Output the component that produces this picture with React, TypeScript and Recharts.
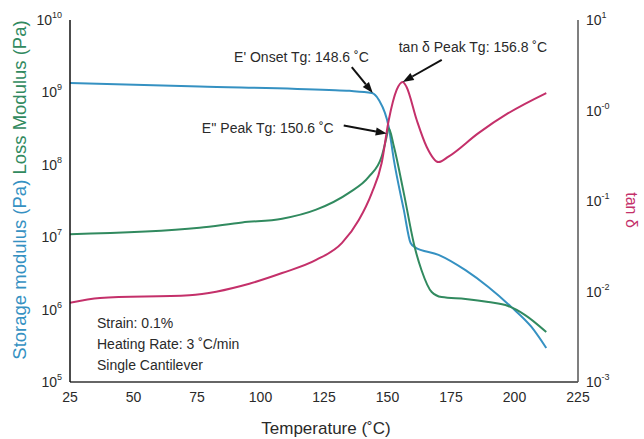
import React from "react";
import { LineChart, Line, XAxis, YAxis, ReferenceDot, Customized } from "recharts";

// Temperature (°C) and values
const storageTemp = [25, 76, 127, 135, 143.8, 146.6, 150.5, 152.5, 156.4, 159.1, 160.7, 170.1, 180.7, 189.7, 198.7, 206.6, 212.5];
const storageVal = [1.35e9, 1.21e9, 1.08e9, 1.05e9, 9.8e8, 7.85e8, 3.3e8, 1.17e8, 2.4e7, 8.3e6, 7.3e6, 5.7e6, 3.5e6, 2.05e6, 1.09e6, 5.8e5, 2.95e5];

const lossTemp = [25, 76, 92.8, 108.5, 121.9, 134.8, 142.6, 147.7, 149.5, 150.5, 152.5, 156.4, 160.7, 163.4, 167.4, 171.3, 180.7, 189.7, 197.5, 204.2, 212.5];
const lossVal = [1.1e7, 1.35e7, 1.6e7, 1.8e7, 2.4e7, 4.1e7, 6.8e7, 1.3e8, 2.3e8, 3.2e8, 1.8e8, 4.1e7, 7.3e6, 3.5e6, 1.75e6, 1.49e6, 1.4e6, 1.27e6, 1.12e6, 8.4e5, 4.9e5];

const tanTemp = [25, 36.8, 72, 95.6, 108.5, 121.9, 132.1, 138.7, 143.8, 147.7, 150.5, 153.6, 156, 157.5, 161.5, 165.4, 170.1, 174, 185.8, 197.5, 212.5];
const tanVal = [0.0075, 0.0085, 0.0091, 0.0122, 0.016, 0.0223, 0.0344, 0.0617, 0.1225, 0.263, 0.785, 1.69, 2.07, 1.82, 0.785, 0.398, 0.269, 0.309, 0.562, 0.933, 1.56];

const xTicks = [25, 50, 75, 100, 125, 150, 175, 200, 225];
const leftTicks = [1e5, 1e6, 1e7, 1e8, 1e9, 1e10];
const leftTickExp = ["5", "6", "7", "8", "9", "10"];
const rightTicks = [1e-3, 1e-2, 1e-1, 1e0, 1e1];
const rightTickExp = ["-3", "-2", "-1", "-0", "1"];

const infoLines = ["Strain: 0.1%", "Heating Rate: 3 \u02DAC/min", "Single Cantilever"];

const storageData = storageTemp.map((t, i) => ({ t, v: storageVal[i] }));
const lossData = lossTemp.map((t, i) => ({ t, v: lossVal[i] }));
const tanData = tanTemp.map((t, i) => ({ t, v: tanVal[i] }));

const FONT = "'Liberation Sans', Arial, sans-serif";
const BLUE = "#3591c2";
const GREEN = "#318a5f";
const RED = "#c4306a";
const TXT = "#2a2a2a";

const LeftTick = (props: any) => {
  const { x, y, payload } = props;
  const idx = leftTicks.indexOf(payload.value);
  return (
    <text x={x} y={y + 5} textAnchor="end" fontFamily={FONT} fontSize={14} fill={TXT}>
      <tspan>10</tspan>
      <tspan dy={-7} fontSize={9}>{leftTickExp[idx]}</tspan>
    </text>
  );
};

const RightTick = (props: any) => {
  const { x, y, payload } = props;
  const idx = rightTicks.findIndex((v) => Math.abs(Math.log10(v) - Math.log10(payload.value)) < 1e-6);
  return (
    <text x={x} y={y + 5} textAnchor="start" fontFamily={FONT} fontSize={14} fill={TXT}>
      <tspan>10</tspan>
      <tspan dy={-7} fontSize={9}>{rightTickExp[idx]}</tspan>
    </text>
  );
};

const BottomTick = (props: any) => {
  const { x, y, payload } = props;
  return (
    <text x={x} y={y + 12} textAnchor="middle" fontFamily={FONT} fontSize={14} fill={TXT}>
      {payload.value}
    </text>
  );
};

const Arrow = ({ x1, y1, x2, y2 }: any) => {
  const ang = Math.atan2(y2 - y1, x2 - x1);
  const L = 11;
  const W = 4;
  const bx = x2 - L * Math.cos(ang);
  const by = y2 - L * Math.sin(ang);
  const px = -Math.sin(ang) * W;
  const py = Math.cos(ang) * W;
  return (
    <g>
      <line x1={x1} y1={y1} x2={bx} y2={by} stroke="#111" strokeWidth={2} />
      <polygon points={`${x2},${y2} ${bx + px},${by + py} ${bx - px},${by - py}`} fill="#111" />
    </g>
  );
};

const makeAnno = (text: string, dx: number, dy: number, tx: number, ty: number, anchor: string) => (props: any) => {
  const { cx, cy } = props;
  if (cx == null || cy == null) return <g />;
  return (
    <g>
      <Arrow x1={cx + dx} y1={cy + dy} x2={cx} y2={cy} />
      <text x={cx + tx} y={cy + ty} textAnchor={anchor} fontFamily={FONT} fontSize={14} fill={TXT}>
        {text}
      </text>
    </g>
  );
};

const OnsetShape = makeAnno("E' Onset Tg: 148.6 \u02DAC", -21, -26, -4, -31, "end");
const LossPeakShape = makeAnno("E'' Peak Tg: 150.6 \u02DAC", -43, -8, -53, -1, "end");
const TanPeakShape = makeAnno("tan \u03B4 Peak Tg: 156.8 \u02DAC", 39, -22, -4, -30, "start");

const Overlay = () => (
  <g>
    {infoLines.map((s, i) => (
      <text key={i} x={97} y={328 + i * 21} fontFamily={FONT} fontSize={14} fill={TXT}>
        {s}
      </text>
    ))}
    <text
      transform="translate(26,190) rotate(-90)"
      textAnchor="middle"
      fontFamily={FONT}
      fontSize={18.5}
    >
      <tspan fill={BLUE}>Storage modulus (Pa)</tspan>
      <tspan fill={GREEN}>{"  Loss Modulus (Pa)"}</tspan>
    </text>
    <text
      transform="translate(626,210) rotate(90)"
      textAnchor="middle"
      fontFamily={FONT}
      fontSize={16}
      fill={RED}
    >
      tan {"\u03B4"}
    </text>
    <text x={326} y={434} textAnchor="middle" fontFamily={FONT} fontSize={17} fill={TXT}>
      Temperature ({"\u02DA"}C)
    </text>
  </g>
);

export default function App() {
  return (
    <div style={{ position: "absolute", left: 0, top: 0, width: 644, height: 439, background: "#fff" }}>
      <LineChart width={644} height={439} margin={{ top: 20, right: 0, bottom: 0, left: 0 }}>
        <XAxis
          type="number"
          dataKey="t"
          domain={[25, 225]}
          ticks={xTicks}
          allowDataOverflow
          tickLine={false}
          axisLine={{ stroke: "#333", strokeWidth: 1.5 }}
          tick={<BottomTick />}
          height={57}
          interval={0}
        />
        <YAxis
          yAxisId="left"
          scale="log"
          domain={[1e5, 1e10]}
          ticks={leftTicks}
          allowDataOverflow
          dataKey="v"
          tickLine={false}
          axisLine={{ stroke: "#111", strokeWidth: 1.5 }}
          tick={<LeftTick />}
          width={70}
          interval={0}
        />
        <YAxis
          yAxisId="right"
          orientation="right"
          scale="log"
          domain={[1e-3, 1e1]}
          ticks={rightTicks}
          allowDataOverflow
          dataKey="v"
          tickLine={false}
          axisLine={{ stroke: "#555", strokeWidth: 1.5 }}
          tick={<RightTick />}
          width={66}
          interval={0}
        />
        <Line yAxisId="left" data={storageData} dataKey="v" type="monotone" stroke={BLUE} strokeWidth={2} dot={false} isAnimationActive={false} />
        <Line yAxisId="left" data={lossData} dataKey="v" type="monotone" stroke={GREEN} strokeWidth={2} dot={false} isAnimationActive={false} />
        <Line yAxisId="right" data={tanData} dataKey="v" type="monotone" stroke={RED} strokeWidth={2} dot={false} isAnimationActive={false} />
        <ReferenceDot yAxisId="left" x={144.2} y={9.8e8} shape={OnsetShape} ifOverflow="visible" />
        <ReferenceDot yAxisId="left" x={149.7} y={2.7e8} shape={LossPeakShape} ifOverflow="visible" />
        <ReferenceDot yAxisId="right" x={156} y={2.07} shape={TanPeakShape} ifOverflow="visible" />
        <Customized component={Overlay} />
      </LineChart>
    </div>
  );
}
